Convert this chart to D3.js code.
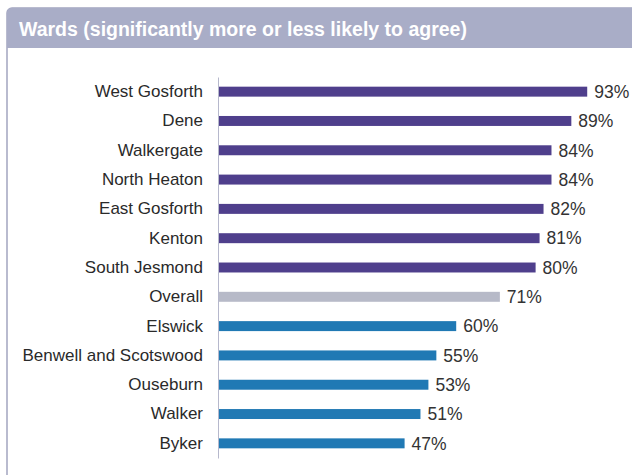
<!DOCTYPE html>
<html>
<head>
<meta charset="utf-8">
<script src="https://cdn.jsdelivr.net/npm/d3@7"></script>
<style>
    body { margin: 0; background: #fff; }
    svg text { font-family: "Liberation Sans", Arial, sans-serif; }
</style>
</head>
<body>
<div id="chart"></div>
<script>
//  Data
var wards       =   [
    "West Gosforth", "Dene", "Walkergate", "North Heaton", "East Gosforth",
    "Kenton", "South Jesmond", "Overall", "Elswick", "Benwell and Scotswood",
    "Ouseburn", "Walker", "Byker"
];
var values      =   [ 93, 89, 84, 84, 82, 81, 80, 71, 60, 55, 53, 51, 47 ];
var groups      =   [ "more", "more", "more", "more", "more", "more", "more",
                      "overall", "less", "less", "less", "less", "less" ];
var title_text  =   "Wards (significantly more or less likely to agree)";


//  Define width and height
var chart_width     =   632;
var chart_height    =   475;

var color           =   {
    more:       "#4f3f8c",
    overall:    "#b7bac8",
    less:       "#2079b4"
};

var rows    =   wards.map(function(d, i){
    return { ward: d, value: values[i], group: groups[i] };
});


// Create SVG
var svg             =   d3.select("#chart")
    .append("svg")
    .attr("width", chart_width)
    .attr("height", chart_height);

// Panel
svg.append("rect")
    .attr("x", 7)
    .attr("y", 8)
    .attr("width", 640)
    .attr("height", 500)
    .attr("rx", 5)
    .attr("fill", "#ffffff")
    .attr("stroke", "#a3a5c0")
    .attr("stroke-width", 1.5);

// Header
svg.append("path")
    .attr("d", "M7,48 V13 Q7,8 12,8 H640 V48 Z")
    .attr("fill", "#a9adc7");

svg.append("text")
    .attr("x", 19)
    .attr("y", 36)
    .attr("fill", "#ffffff")
    .attr("font-size", "19.5px")
    .attr("font-weight", "bold")
    .text(title_text);


// Scales
var x   =   d3.scaleLinear()
    .domain([ 0, 100 ])
    .range([ 218, 615 ]);

var y   =   d3.scaleBand()
    .domain(wards)
    .range([ 77, 458 ])
    .paddingInner(0.66)
    .paddingOuter(0.33);


// Axis
var axis_g  =   svg.append("g")
    .attr("transform", "translate(" + x(0) + ",0)")
    .call(d3.axisLeft(y).tickSize(0).tickPadding(15));

axis_g.select(".domain")
    .attr("stroke", "#b6b8cc");

axis_g.selectAll("text")
    .attr("font-size", "17px")
    .attr("fill", "#2a2a2a");


// Bars
svg.append("g")
    .selectAll("rect")
    .data(rows)
    .enter()
    .append("rect")
    .attr("x", x(0) + 1)
    .attr("y", function(d){ return y(d.ward); })
    .attr("width", function(d){ return x(d.value) - x(0) - 1; })
    .attr("height", y.bandwidth())
    .attr("fill", function(d){ return color[d.group]; });


// Value labels
svg.append("g")
    .selectAll("text")
    .data(rows)
    .enter()
    .append("text")
    .attr("x", function(d){ return x(d.value) + 7; })
    .attr("y", function(d){ return y(d.ward) + y.bandwidth() / 2; })
    .attr("dy", "0.36em")
    .attr("font-size", "17.5px")
    .attr("fill", "#333333")
    .text(function(d){ return d.value + "%"; });
</script>
</body>
</html>
